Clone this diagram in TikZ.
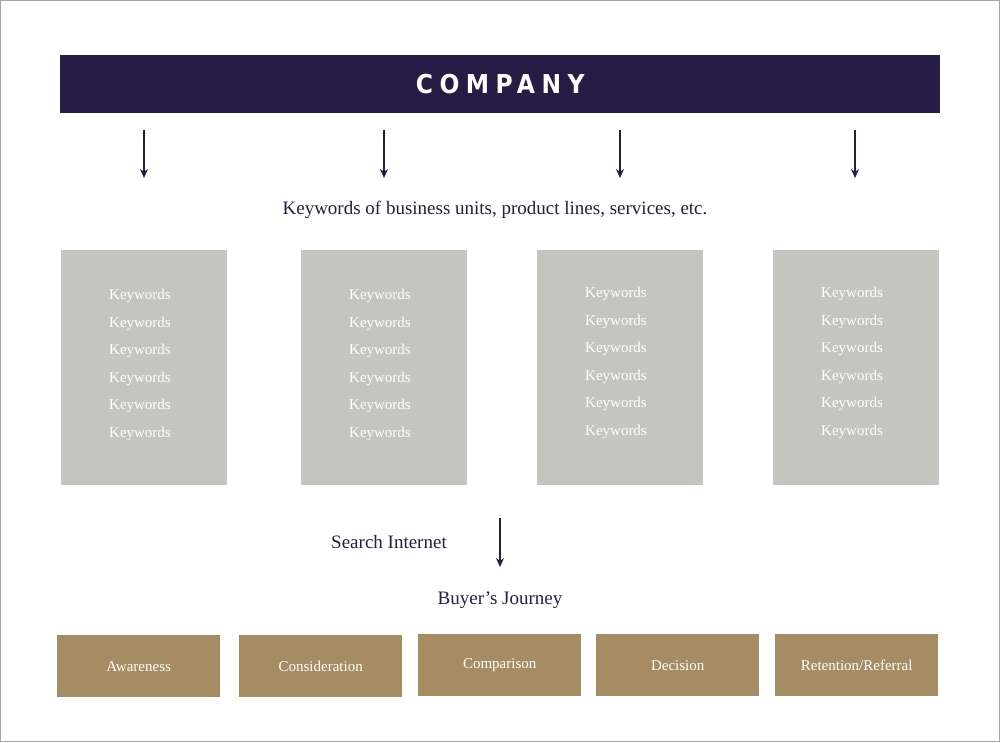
\documentclass[tikz,border=0pt]{standalone}
\usepackage{fontspec}
\setmainfont{Liberation Serif}
\newfontfamily\cond{DejaVu Sans Condensed}[LetterSpace=25]
\usetikzlibrary{arrows.meta}
\definecolor{navy}{HTML}{261C45}
\definecolor{kgray}{HTML}{C5C5C0}
\definecolor{tan}{HTML}{A58C62}
\tikzset{
 arr/.style={draw=navy,line width=1.6pt,-{Stealth[length=9pt,width=8pt]}},
 kbox/.style={fill=kgray,draw=none,minimum width=166pt,minimum height=235pt,anchor=north west,inner sep=0pt},
 tbox/.style={fill=tan,draw=none,minimum width=163pt,minimum height=62pt,anchor=north west,text=white,font=\fontsize{15}{18}\selectfont,inner sep=0pt},
 kw/.style={text=white,font=\fontsize{15}{18}\selectfont,align=center},
 lbl/.style={text=navy,font=\fontsize{19}{22}\selectfont}
}
\begin{document}
\begin{tikzpicture}[x=1pt,y=-1pt]
\useasboundingbox (0,0) rectangle (1000,742);
\draw[gray!70,line width=1pt] (0.5,0.5) rectangle (999.5,741.5);
\node[fill=navy,minimum width=880pt,minimum height=58pt,anchor=north west,inner sep=0pt,text=white,font=\cond\bfseries\fontsize{26}{30}\selectfont] (comp) at (60,55) {COMPANY};
\foreach \x/\n in {144/a1,384/a2,620/a3,855/a4}{
 \coordinate (\n s) at (\x,130); \coordinate (\n e) at (\x,178);
 \draw[arr] (\n s) -- (\n e);}
\node[lbl] (kwt) at (495,210) {Keywords of business units, product lines, services, etc.};
\foreach \x/\n/\y in {61/k1/296,301/k2/296,537/k3/294,773/k4/294}{
 \node[kbox] (\n) at (\x,250) {};
 \foreach \i in {0,...,5}{
  \node[kw] (\n w\i) at (\x+79,\y+\i*27.5) {Keywords};}}
\node[lbl] (si) at (389,542) {Search Internet};
\coordinate (s1) at (500,518); \coordinate (s2) at (500,567);
\draw[arr] (s1) -- (s2);
\node[lbl] (bj) at (500,600) {Buyer’s Journey};
\node[tbox] (t1) at (57,635) {Awareness};
\node[tbox] (t2) at (239,635) {Consideration};
\node[tbox] (t3) at (418,634) {Comparison};
\node[tbox] (t4) at (596,634) {Decision};
\node[tbox] (t5) at (775,634) {Retention/Referral};
\end{tikzpicture}
\end{document}
